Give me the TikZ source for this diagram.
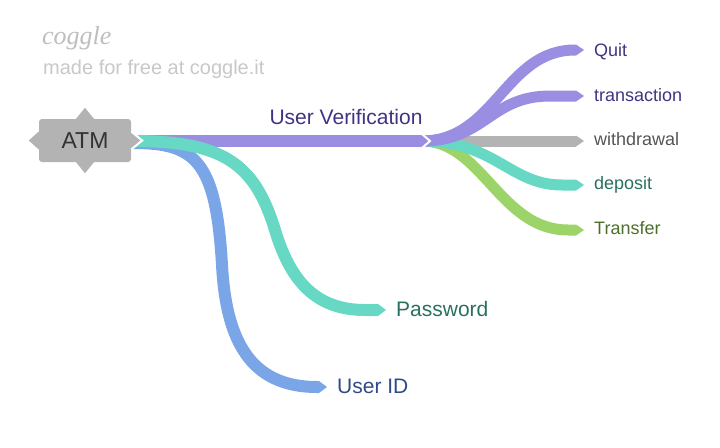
\documentclass[tikz,border=0pt]{standalone}
\usepackage{fontspec}
\setmainfont{Liberation Sans}
\newfontfamily\logofont{Liberation Serif}
\usetikzlibrary{arrows.meta}
\pgfdeclarelayer{bg}
\pgfsetlayers{bg,main}
\definecolor{cpurple}{RGB}{153,142,226}
\definecolor{cteal}{RGB}{103,216,196}
\definecolor{cblue}{RGB}{122,165,230}
\definecolor{cgreen}{RGB}{157,212,106}
\definecolor{cgray}{RGB}{179,179,179}
\definecolor{tpurple}{RGB}{64,52,130}
\definecolor{tgray}{RGB}{85,85,85}
\definecolor{tteal}{RGB}{42,112,96}
\definecolor{tgreen}{RGB}{76,110,42}
\definecolor{tblue}{RGB}{46,74,135}
\definecolor{logogray}{RGB}{190,190,190}
\definecolor{madegray}{RGB}{200,200,200}
\definecolor{atmtext}{RGB}{51,51,51}
\begin{document}
\begin{tikzpicture}[x=1pt,y=-1pt,
  band/.style={line width=#1, line cap=butt, line join=round,
    -{Triangle[length=8pt,width=#1,line width=0pt]}},
  band/.default=11pt,
  lbl/.style={anchor=base west, inner sep=0pt, font=\fontsize{18}{20}\selectfont},
  big/.style={anchor=base west, inner sep=0pt, font=\fontsize{21}{24}\selectfont},
  notch/.style={white, line width=2pt, line cap=butt}]
\useasboundingbox (0,0) rectangle (720,447);

% header
\node[anchor=base west, inner sep=0pt, text=logogray,
  font=\logofont\itshape\fontsize{26}{28}\selectfont] (logo) at (42,44) {coggle};
\node[anchor=base west, inner sep=0pt, text=madegray,
  font=\fontsize{20}{22}\selectfont] (made) at (43,74) {made for free at coggle.it};

% root
\node[fill=cgray, rounded corners=3pt, minimum width=92pt, minimum height=43pt,
  inner sep=0pt, text=atmtext, font=\fontsize{23}{26}\selectfont] (atm) at (85,140.5) {ATM};
\fill[cgray] ([shift={(-9,0)}]atm.north) -- ([shift={(0,-11)}]atm.north) -- ([shift={(9,0)}]atm.north) -- cycle;
\fill[cgray] ([shift={(-9,0)}]atm.south) -- ([shift={(0,11)}]atm.south) -- ([shift={(9,0)}]atm.south) -- cycle;
\fill[cgray] ([shift={(0,-9)}]atm.west) -- ([shift={(-10,0)}]atm.west) -- ([shift={(0,9)}]atm.west) -- cycle;
\fill[cgray] ([shift={(0,-9)}]atm.east) -- ([shift={(11,0)}]atm.east) -- ([shift={(0,9)}]atm.east) -- cycle;
\draw[notch] ([shift={(0,-9)}]atm.east) -- ([shift={(11,0)}]atm.east) -- ([shift={(0,9)}]atm.east);

% coordinates
\coordinate (atmR) at (133,141);
\coordinate (uvS) at (422,141);
\coordinate (uvE) at (430,141);
\coordinate (pwE) at (386,310);
\coordinate (idE) at (327,387);
\coordinate (quitE) at (584,50);
\coordinate (trE) at (584,96);
\coordinate (wdE) at (584,141);
\coordinate (depE) at (584,185);
\coordinate (tfE) at (584,230);

% labels
\node[anchor=base, inner sep=0pt, text=tpurple, font=\fontsize{21}{24}\selectfont] (uv) at (346,124) {User Verification};
\node[big, text=tteal] (pw) at (396,316) {Password};
\node[big, text=tblue] (uid) at (337,393) {User ID};
\node[lbl, text=tpurple] (quit) at (594,56) {Quit};
\node[lbl, text=tpurple] (tr) at (594,101) {transaction};
\node[lbl, text=tgray] (wd) at (594,145.5) {withdrawal};
\node[lbl, text=tteal] (dep) at (594,189.5) {deposit};
\node[lbl, text=tgreen] (tf) at (594,234.5) {Transfer};

% branches
\begin{pgfonlayer}{bg}
\draw[band, cgray] (uvS) -- (wdE);
\draw[band, cgreen] (uvS) .. controls (482,141) and (500,230) .. (568,230) -- (tfE);
\draw[band, cteal] (uvS) .. controls (495,141) and (510,185) .. (562,185) -- (depE);
\draw[band, cpurple] (uvS) .. controls (485,141) and (490,96) .. (550,96) -- (trE);
\draw[band, cpurple] (uvS) .. controls (495,141) and (505,50) .. (575,50) -- (quitE);
\draw[band=12pt, cpurple] (atmR) -- (uvE);
\draw[band=12pt, cblue] ([shift={(0,2)}]atmR) .. controls (195,143) and (216,160) .. (222,265)
  .. controls (226,340) and (250,387) .. (317,387) -- (idE);
\draw[band=12pt, cteal] (atmR) .. controls (225,141) and (255,165) .. (275,230)
  .. controls (290,280) and (315,310) .. (365,310) -- (pwE);
\end{pgfonlayer}
\draw[notch] ([shift={(0,-7)}]uvS) -- (uvE) -- ([shift={(0,7)}]uvS);
\end{tikzpicture}
\end{document}
